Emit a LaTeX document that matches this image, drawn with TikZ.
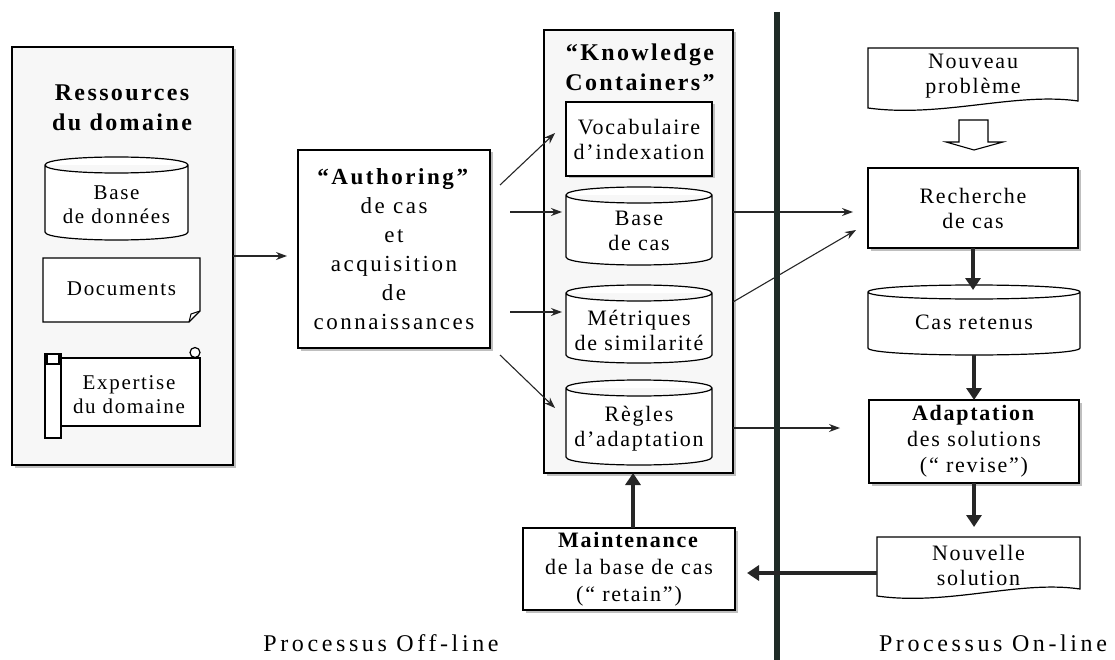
\documentclass[tikz,border=0pt]{standalone}
\usepackage{fontspec}
\setmainfont{Liberation Serif}[LetterSpace=8]
\usetikzlibrary{arrows.meta,shadows,calc}
\definecolor{vline}{HTML}{1F2B27}
\definecolor{tline}{HTML}{262626}
\newcommand\dbshape[2][8pt]{%
  \path[draw, line width=1.2pt, fill=white] let \p1=(#2.north west), \p2=(#2.south east) in
    (\x1,\y1-#1) .. controls (\x1,\y1+#1/3) and (\x2,\y1+#1/3) .. (\x2,\y1-#1)
    -- (\x2,\y2+#1) .. controls (\x2,\y2-#1/3) and (\x1,\y2-#1/3) .. (\x1,\y2+#1) -- cycle
    (\x1,\y1-#1) .. controls (\x1,\y1-7*#1/3) and (\x2,\y1-7*#1/3) .. (\x2,\y1-#1);}
\newcommand\wavydoc[1]{%
  \path[draw, line width=1.2pt, fill=white] let \p1=(#1.north west), \p2=(#1.south east), \n1={\x2-\x1} in
    (\x1,\y1) -- (\x2,\y1) -- (\x2,\y2+9pt)
    .. controls (\x2-0.3*\n1,\y2+18pt) and (\x1+0.35*\n1,\y2-8pt) .. (\x1,\y2+2pt) -- cycle;}
\begin{document}
\begin{tikzpicture}[x=1pt,y=-1pt,
  every node/.style={inner sep=0pt, outer sep=0pt},
  txt/.style={font=\fontsize{22}{25}\selectfont, align=center},
  stxt/.style={font=\fontsize{21}{24}\selectfont, align=center},
  ttl/.style={font=\bfseries\fontsize{24}{30}\selectfont\addfontfeature{LetterSpace=10}, align=center},
  rbox/.style={draw, line width=1.2pt, fill=white,
     drop shadow={shadow xshift=2.5pt, shadow yshift=-2.5pt, fill=gray!50, opacity=1}},
  cont/.style={rbox, fill=gray!6},
  sl/.style={draw, line width=1.2pt, fill=white},
  arr/.style={line width=1.1pt, draw=tline, -{Stealth[length=11pt,width=8pt]}},
  bigarr/.style={line width=4pt, draw=tline, -{Triangle[length=12pt,width=15pt]}},
  lbl/.style={font=\fontsize{24}{28}\selectfont\addfontfeature{LetterSpace=15}},
]
\useasboundingbox (0,0) rectangle (1115,660);

% ---------- Ressources du domaine
\node[cont, minimum width=221pt, minimum height=418pt] (res) at (122.5,256) {};
\node[ttl] (restitle) at (122,107.5) {Ressources\\du domaine};
\node[minimum width=143pt, minimum height=83pt] (bdd) at (116.5,198.5) {};
\dbshape{bdd}
\node[stxt] (bddt) at (116.5,205) {Base\\de données};

\node[minimum width=157pt, minimum height=64pt] (docs) at (121.5,290) {};
\path[sl] (43,258) -- (200,258) -- (200,311) -- (189,322) -- (43,322) -- cycle;
\draw[line width=1pt] (189,322) -- (191,314) -- (200,311);
\node[stxt] (docst) at (121.5,289) {Documents};

\path[sl] (60,358) -- (200,358) -- (200,426) -- (60,426) -- cycle;
\path[sl] (195,352.5) circle[radius=5pt];
\path[sl] (45,354) rectangle (61,438);
\path[sl] (47,354) rectangle (59,364);
\node[stxt] (expt) at (129,394.5) {Expertise\\du domaine};

% ---------- Authoring
\node[rbox, minimum width=192pt, minimum height=198pt, font=\fontsize{23}{29}\selectfont\addfontfeature{LetterSpace=11}, align=center] (auth) at (394,249)
  {\textbf{“Authoring”}\\de cas\\et\\acquisition\\de\\connaissances};

% ---------- Knowledge containers
\node[cont, minimum width=189pt, minimum height=443pt] (kc) at (638.5,251.5) {};
\node[ttl] (kct) at (640,67.5) {“Knowledge\\Containers”};
\node[rbox, txt, minimum width=146pt, minimum height=74pt] (voc) at (639,139) {Vocabulaire\\d’indexation};
\node[minimum width=146pt, minimum height=78pt] (bdc) at (639,226) {};
\dbshape{bdc}
\node[txt] (bdct) at (639,230.5) {Base\\de cas};
\node[minimum width=146pt, minimum height=78pt] (met) at (639,324) {};
\dbshape{met}
\node[txt] (mett) at (639,330) {Métriques\\de similarité};
\node[minimum width=146pt, minimum height=85pt] (reg) at (639,422.5) {};
\dbshape{reg}
\node[txt] (regt) at (639,428.5) {Règles\\d’adaptation};

% ---------- Maintenance
\node[rbox, txt, minimum width=212pt, minimum height=82pt, font=\fontsize{22}{27}\selectfont] (maint) at (629,569)
  {\textbf{Maintenance}\\de la base de cas\\(“ retain”)};

% ---------- On-line column
\node[minimum width=210pt, minimum height=62pt] (nouv) at (973,79) {};
\wavydoc{nouv}
\node[txt] (nouvt) at (973,76.5) {Nouveau\\problème};
\path[sl, line width=1.1pt] (959,120) -- (988,120) -- (988,142) -- (1003,142) -- (974,150) -- (946,142) -- (959,142) -- cycle;
\node[rbox, txt, minimum width=210pt, minimum height=80pt] (rech) at (973,208) {Recherche\\de cas};
\node[minimum width=212pt, minimum height=70pt] (cas) at (974,320) {};
\dbshape[7pt]{cas}
\node[txt] (cast) at (974,322) {Cas retenus};
\node[rbox, txt, minimum width=210pt, minimum height=83pt, font=\fontsize{22}{26}\selectfont] (adap) at (974,441.5)
  {\textbf{Adaptation}\\des solutions\\(“ revise”)};
\node[minimum width=203pt, minimum height=61pt] (nsol) at (978.5,567.5) {};
\wavydoc{nsol}
\node[txt] (nsolt) at (978.5,565.5) {Nouvelle\\solution};

% ---------- labels
\node[lbl] (off) at (381,643) {Processus Off-line};
\node[lbl] (on) at (993,643) {Processus On-line};

% ---------- thin connectors
\draw[arr, shorten >=11pt] (res.east) -- (res.east -| auth.west);
\draw[arr] ([shift={(10,-64)}]auth.east) -- ([shift={(-11,-6)}]voc.west);
\draw[arr] ([shift={(20,-37)}]auth.east) -- ([shift={(-4,-14)}]bdc.west);
\draw[arr] ([shift={(20,63)}]auth.east) -- ([shift={(-4,-12)}]met.west);
\draw[arr] ([shift={(10,106)}]auth.east) -- ([shift={(-11,-14.5)}]reg.west);
\draw[arr] ([shift={(0,-39.5)}]kc.east) -- ([shift={(-15,4)}]rech.west);
\draw[arr] ([shift={(0,50.5)}]kc.east) -- ([shift={(-12,22)}]rech.west);
\draw[arr] ([shift={(0,176.5)}]kc.east) -- ([shift={(-29,-13.5)}]adap.west);

% ---------- separator
\coordinate (vtop) at (777,12);
\coordinate (vbot) at (777,660);
\draw[line width=6pt, vline] (vtop) -- (vbot);

% ---------- thick connectors
\coordinate (casin) at ([yshift=-5pt]cas.north);
\draw[bigarr] (rech.south) -- (rech.south |- casin);
\draw[bigarr] (cas.south) -- (adap.north);
\draw[bigarr, shorten >=10pt] (adap.south) -- (adap.south |- nsol.north);
\coordinate (nsout) at ([yshift=-5.5pt]nsol.west);
\draw[bigarr, shorten >=12pt] (nsout) -- (nsout -| maint.east);
\coordinate (mup) at ([xshift=4pt]maint.north);
\draw[bigarr] (mup) -- (mup |- kc.south);
\end{tikzpicture}
\end{document}
